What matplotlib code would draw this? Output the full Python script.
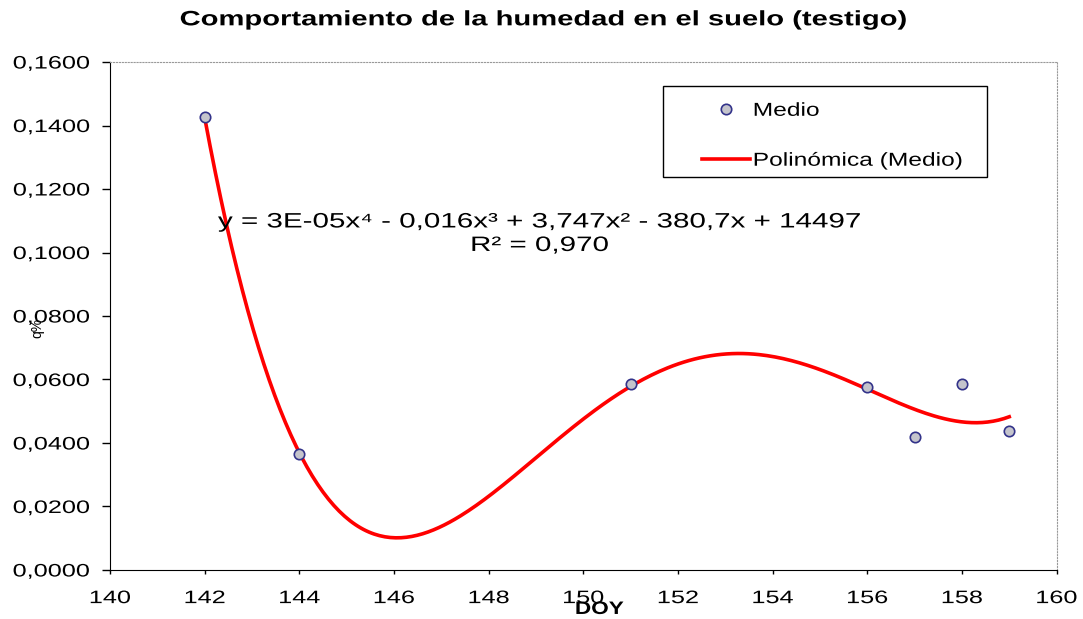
import numpy as np
import matplotlib.pyplot as plt
from matplotlib.patches import Rectangle
from matplotlib.patheffects import AbstractPathEffect
from matplotlib.ticker import FuncFormatter
from matplotlib.transforms import Affine2D

plt.rcParams['font.family'] = ['Liberation Sans', 'DejaVu Sans']

# =========================
# Data
# =========================
doy = [142, 144, 151, 156, 157, 158, 159]
medio = [0.1427, 0.0365, 0.0586, 0.0576, 0.0419, 0.0586, 0.0438]

x_ticks = [140, 142, 144, 146, 148, 150, 152, 154, 156, 158, 160]
y_ticks = [0.0, 0.02, 0.04, 0.06, 0.08, 0.10, 0.12, 0.14, 0.16]

title = "Comportamiento de la humedad en el suelo (testigo)"
equation = "y = 3E-05x⁴ - 0,016x³ + 3,747x² - 380,7x + 14497\nR² = 0,970"
legend_labels = ["Medio", "Polinómica (Medio)"]


class Stretch(AbstractPathEffect):
    """Widen the glyphs horizontally (the original uses a wide, spaced font)."""

    def __init__(self, sx, anchor="center"):
        super().__init__()
        self.sx = sx
        self.anchor = anchor

    def draw_path(self, renderer, gc, tpath, affine, rgbFace=None):
        ext = tpath.get_extents(affine)
        if self.anchor == "left":
            x0 = ext.x0
        elif self.anchor == "right":
            x0 = ext.x1
        else:
            x0 = (ext.x0 + ext.x1) / 2
        new = affine + Affine2D().translate(-x0, 0).scale(self.sx, 1).translate(x0, 0)
        renderer.draw_path(gc, tpath, new, rgbFace)


# 4th order polynomial trend (Excel style), fitted on centered x
x = np.array(doy, dtype=float)
xc = x.mean()
coef = np.polyfit(x - xc, medio, 4)
x_fit = np.linspace(x.min(), x.max(), 300)
y_fit = np.polyval(coef, x_fit - xc)

fig = plt.figure(figsize=(10.83, 6.19), dpi=100)
ax = fig.add_axes([0.1016, 0.0792, 0.874, 0.8206])

pts, = ax.plot(doy, medio, 'o', ms=7.5, mfc='#c4c4cc', mec='#33338a', mew=1.2,
               zorder=3)
trend, = ax.plot(x_fit, y_fit, color='#ff0000', lw=2.6, zorder=2)

ax.set_xlim(140, 160)
ax.set_ylim(0, 0.16)
ax.set_xticks(x_ticks)
ax.set_yticks(y_ticks)
ax.yaxis.set_major_formatter(FuncFormatter(lambda v, p: f"{v:.4f}".replace('.', ',')))
ax.tick_params(axis='y', labelsize=13, length=6, width=1, pad=8.5)
ax.tick_params(axis='x', labelsize=13, length=3, width=1, pad=11.5)

for s in ['top', 'right']:
    ax.spines[s].set_color('#999999')
    ax.spines[s].set_linestyle(':')
for s in ['left', 'bottom']:
    ax.spines[s].set_color('black')

# axis labels
ax.set_xlabel("DOY", fontsize=13, fontweight='bold',
              path_effects=[Stretch(1.25)])
ax.xaxis.set_label_coords(0.517, -0.061)
ax.set_ylabel("q%", fontsize=10)
ax.yaxis.set_label_coords(-0.069, 0.476)

fig.text(0.503, 0.968, title, ha='center', va='center', fontsize=15,
         fontweight='bold', path_effects=[Stretch(1.4)])

ax.text(0.454, 0.662, equation, transform=ax.transAxes, ha='center', va='center',
        fontsize=15, linespacing=1.3, path_effects=[Stretch(1.42)])

# legend: frame drawn as a plain rectangle, entries without frame
ax.add_patch(Rectangle((0.584, 0.773), 0.343, 0.180, transform=ax.transAxes,
                       facecolor='white', edgecolor='black', lw=1.0, zorder=4))
leg = ax.legend([pts, trend], legend_labels,
                loc='upper left', bbox_to_anchor=(0.625, 0.92),
                fontsize=13.5, frameon=False, borderpad=0, borderaxespad=0,
                labelspacing=1.75, handlelength=2.6, handletextpad=0.15,
                numpoints=1)
leg.set_zorder(5)
for t in leg.get_texts():
    t.set_path_effects([Stretch(1.31, "left")])

# tick labels exist after a first draw; stretch them like the original
fig.canvas.draw()
for t in ax.get_xticklabels():
    t.set_path_effects([Stretch(1.4)])
for t in ax.get_yticklabels():
    t.set_path_effects([Stretch(1.4, "right")])

fig.savefig("out.png", dpi=100)
